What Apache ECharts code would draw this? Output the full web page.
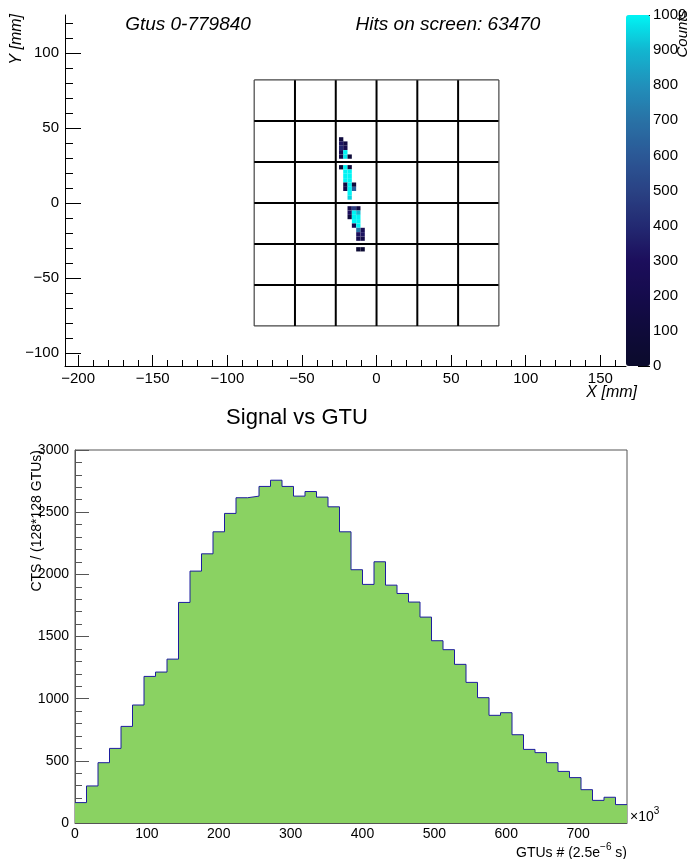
<!DOCTYPE html>
<html>
<head>
<meta charset="utf-8">
<script src="https://cdn.jsdelivr.net/npm/echarts@6/dist/echarts.min.js"></script>
<style>
html,body{margin:0;padding:0;background:#fff;}
#chart{width:691px;height:859px;}
</style>
</head>
<body>
<div id="chart"></div>
<script>
// ---------- DATA ----------
// Top panel: focal-surface hit map (pixel centre X [mm], Y [mm], counts)
const hits = [
  [-23.7, 42.4, 120],
  [-23.7, 39.6, 320], [-20.9, 39.6, 160],
  [-23.7, 36.7, 380], [-20.9, 36.7, 220],
  [-23.7, 33.8, 260], [-20.9, 33.8, 1000],
  [-23.7, 30.9, 200], [-20.9, 30.9, 980], [-18.0, 30.9, 90],
  [-23.7, 23.8, 80], [-20.9, 23.8, 1000], [-18.0, 23.8, 110],
  [-20.9, 20.9, 1000], [-18.0, 20.9, 1000],
  [-20.9, 18.0, 1000], [-18.0, 18.0, 1000],
  [-20.9, 15.1, 1000], [-18.0, 15.1, 1000],
  [-20.9, 12.2, 150], [-18.0, 12.2, 1000], [-15.1, 12.2, 120],
  [-20.9, 9.4, 200], [-18.0, 9.4, 1000], [-15.1, 9.4, 620],
  [-18.0, 6.5, 1000],
  [-18.0, 3.6, 950],
  [-18.0, -3.6, 220], [-15.1, -3.6, 480], [-12.2, -3.6, 150],
  [-18.0, -6.5, 300], [-15.1, -6.5, 1000], [-12.2, -6.5, 900],
  [-18.0, -9.4, 120], [-15.1, -9.4, 1000], [-12.2, -9.4, 1000],
  [-15.1, -12.2, 1000], [-12.2, -12.2, 1000],
  [-15.1, -15.1, 220], [-12.2, -15.1, 1000],
  [-12.2, -18.0, 700], [-9.3, -18.0, 250],
  [-12.2, -20.9, 300], [-9.3, -20.9, 320],
  [-12.2, -23.8, 220], [-9.3, -23.8, 180],
  [-12.2, -30.9, 60], [-9.3, -30.9, 60]
];
// MAPMT boundaries [mm]
const pmtEdges = [-82, -54.67, -27.33, 0, 27.33, 54.67, 82];
const pixelSize = 2.88; // mm
const mapXTicks = [-200, -150, -100, -50, 0, 50, 100, 150];
const mapYTicks = [-100, -50, 0, 50, 100];
const countsTicks = [0, 100, 200, 300, 400, 500, 600, 700, 800, 900, 1000];

// Bottom panel: Signal vs GTU histogram (48 bins, x in units of 10^3 GTU)
const binWidth = 16;
const signal = [
  164, 298, 485, 600, 777, 949, 1179, 1214, 1318, 1774,
  2026, 2165, 2342, 2490, 2616, 2629, 2707, 2757, 2707, 2629,
  2666, 2621, 2543, 2342, 2037, 1919, 2101, 1913, 1846, 1777,
  1656, 1466, 1394, 1276, 1131, 1008, 866, 887, 710, 592,
  566, 485, 415, 365, 268, 182, 207, 148
];
const gtuTicks = [0, 100, 200, 300, 400, 500, 600, 700];

// ---------- HELPERS ----------
const FONT = '"Liberation Sans", Arial, Helvetica, sans-serif';
function steps(a, b, s) { const r = []; for (let v = a; v <= b + 1e-9; v += s) r.push(+v.toFixed(6)); return r; }
const minus = v => (v < 0 ? '\u2212' + Math.abs(v) : String(v));
const plain = v => String(v);

const histPoints = signal.map((v, i) => [i * binWidth, v]);
histPoints.push([signal.length * binWidth, signal[signal.length - 1]]);
const histMax = signal.length * binWidth;

const X0 = -208.8, X1 = 167.2, Y0 = -108.7, Y1 = 125.3;

const chart = echarts.init(document.getElementById('chart'), null, { renderer: 'canvas' });

const lblTop = { color: '#000', fontSize: 15, fontFamily: FONT };
const lblBot = { color: '#000', fontSize: 14, fontFamily: FONT };

const option = {
  animation: false,
  backgroundColor: '#fff',
  grid: [
    { left: 65, top: 15, width: 561, height: 351, show: false },
    { left: 75, top: 450, width: 552, height: 373, show: true, borderColor: '#555', borderWidth: 1, backgroundColor: 'transparent' },
    { left: 626, top: 15, width: 24, height: 351, show: false }
  ],
  visualMap: {
    type: 'continuous', min: 0, max: 1000, seriesIndex: 0, dimension: 2,
    calculable: false, orient: 'vertical', left: 626, top: 15,
    itemWidth: 24, itemHeight: 351, padding: 0, text: null, hoverLink: false,
    inRange: { color: ['#0b0b2c', '#0f0b3a', '#150b4c', '#1c0e5c', '#232a72', '#2a4284', '#2b5896', '#2972a6', '#2190bb', '#12b6d0', '#00f4f4'] }
  },
  xAxis: [
    { gridIndex: 0, type: 'value', min: X0, max: X1, position: 'bottom',
      axisLine: { show: true, onZero: false, lineStyle: { color: '#000', width: 1 } },
      axisTick: { show: true, inside: true, length: 11, customValues: mapXTicks, lineStyle: { color: '#000' } },
      axisLabel: Object.assign({ customValues: mapXTicks, formatter: minus, margin: 5 }, lblTop),
      splitLine: { show: false } },
    { gridIndex: 0, type: 'value', min: X0, max: X1, position: 'bottom',
      axisLine: { show: false, onZero: false },
      axisTick: { show: true, inside: true, length: 6, customValues: steps(-200, 160, 10), lineStyle: { color: '#000' } },
      axisLabel: { show: false }, splitLine: { show: false } },
    { gridIndex: 2, type: 'value', min: 0, max: 1, show: false },
    { gridIndex: 1, type: 'value', min: 0, max: histMax, position: 'bottom',
      axisLine: { show: true, onZero: false, lineStyle: { color: '#555', width: 1 } },
      axisTick: { show: true, inside: true, length: 10, customValues: gtuTicks, lineStyle: { color: '#555' } },
      axisLabel: Object.assign({ customValues: gtuTicks, formatter: plain, margin: 4 }, lblBot),
      splitLine: { show: false } },
    { gridIndex: 1, type: 'value', min: 0, max: histMax, position: 'bottom',
      axisLine: { show: false, onZero: false },
      axisTick: { show: true, inside: true, length: 5, customValues: steps(0, 760, 20), lineStyle: { color: '#555' } },
      axisLabel: { show: false }, splitLine: { show: false } }
  ],
  yAxis: [
    { gridIndex: 0, type: 'value', min: Y0, max: Y1, position: 'left',
      axisLine: { show: true, onZero: false, lineStyle: { color: '#000', width: 1 } },
      axisTick: { show: true, inside: true, length: 16, customValues: mapYTicks, lineStyle: { color: '#000' } },
      axisLabel: Object.assign({ customValues: mapYTicks, formatter: minus, margin: 6 }, lblTop),
      splitLine: { show: false } },
    { gridIndex: 0, type: 'value', min: Y0, max: Y1, position: 'left',
      axisLine: { show: false, onZero: false },
      axisTick: { show: true, inside: true, length: 8, customValues: steps(-100, 120, 10), lineStyle: { color: '#000' } },
      axisLabel: { show: false }, splitLine: { show: false } },
    { gridIndex: 2, type: 'value', min: 0, max: 1000, position: 'right',
      axisLine: { show: false, onZero: false },
      axisTick: { show: true, inside: true, length: 12, customValues: countsTicks, lineStyle: { color: '#000' } },
      minorTick: { show: false },
      axisLabel: Object.assign({ customValues: countsTicks, formatter: plain, margin: 3 }, lblTop),
      splitLine: { show: false } },
    { gridIndex: 1, type: 'value', min: 0, max: 3000, interval: 500, position: 'left',
      axisLine: { show: true, onZero: false, lineStyle: { color: '#555', width: 1 } },
      axisTick: { show: true, inside: true, length: 14, lineStyle: { color: '#555' } },
      minorTick: { show: true, splitNumber: 5, length: 7, lineStyle: { color: '#555' } },
      axisLabel: Object.assign({ formatter: plain, margin: 6 }, lblBot),
      splitLine: { show: false } },
    { gridIndex: 2, type: 'value', min: 0, max: 1000, position: 'right', show: true,
      axisLine: { show: false, onZero: false }, axisLabel: { show: false },
      axisTick: { show: true, inside: true, length: 7, customValues: steps(0, 1000, 20), lineStyle: { color: '#000' } },
      splitLine: { show: false } }
  ],
  series: [
    { // hit map pixels
      type: 'custom', xAxisIndex: 0, yAxisIndex: 0, clip: true, silent: true, z: 2,
      data: hits,
      encode: { x: 0, y: 1 },
      renderItem: function (params, api) {
        const x = api.value(0), y = api.value(1), h = pixelSize / 2;
        const p0 = api.coord([x - h, y + h]);
        const p1 = api.coord([x + h, y - h]);
        return { type: 'rect', shape: { x: p0[0], y: p0[1], width: p1[0] - p0[0], height: p1[1] - p0[1] },
                 style: { fill: api.visual('color') } };
      }
    },
    { // MAPMT boundary grid
      type: 'custom', xAxisIndex: 0, yAxisIndex: 0, clip: false, silent: true, z: 3,
      data: pmtEdges.map(e => [e, e]),
      encode: { x: 0, y: 1 },
      renderItem: function (params, api) {
        const e = api.value(0);
        const lo = pmtEdges[0], hi = pmtEdges[pmtEdges.length - 1];
        const outer = (params.dataIndex === 0 || params.dataIndex === pmtEdges.length - 1);
        const st = { stroke: outer ? '#444' : '#000', lineWidth: outer ? 1.2 : 2 };
        const v0 = api.coord([e, lo]), v1 = api.coord([e, hi]);
        const h0 = api.coord([lo, e]), h1 = api.coord([hi, e]);
        return { type: 'group', children: [
          { type: 'line', shape: { x1: v0[0], y1: v0[1], x2: v1[0], y2: v1[1] }, style: st },
          { type: 'line', shape: { x1: h0[0], y1: h0[1], x2: h1[0], y2: h1[1] }, style: st }
        ] };
      }
    },
    { // Signal vs GTU histogram
      type: 'line', xAxisIndex: 3, yAxisIndex: 3, step: 'end', showSymbol: false, symbol: 'none',
      silent: true, z: 2,
      data: histPoints,
      lineStyle: { color: '#1d1d9e', width: 1 },
      areaStyle: { color: '#8ad262', opacity: 1 }
    }
  ],
  graphic: [
    { type: 'text', x: 188, y: 25, style: { text: 'Gtus 0-779840', fontSize: 19, fontStyle: 'italic', fontFamily: FONT, fill: '#000', align: 'center', verticalAlign: 'middle' } },
    { type: 'text', x: 448, y: 25, style: { text: 'Hits on screen: 63470', fontSize: 19, fontStyle: 'italic', fontFamily: FONT, fill: '#000', align: 'center', verticalAlign: 'middle' } },
    { type: 'text', x: 17, y: 14, rotation: Math.PI / 2, style: { text: 'Y [mm]', fontSize: 16, fontStyle: 'italic', fontFamily: FONT, fill: '#000', align: 'right', verticalAlign: 'middle' } },
    { type: 'text', x: 637, y: 393, style: { text: 'X [mm]', fontSize: 16, fontStyle: 'italic', fontFamily: FONT, fill: '#000', align: 'right', verticalAlign: 'middle' } },
    { type: 'text', x: 683, y: 10, rotation: Math.PI / 2, style: { text: 'Counts', fontSize: 15, fontStyle: 'italic', fontFamily: FONT, fill: '#000', align: 'right', verticalAlign: 'middle' } },
    { type: 'text', x: 297, y: 418, style: { text: 'Signal vs GTU', fontSize: 22, fontFamily: FONT, fill: '#000', align: 'center', verticalAlign: 'middle' } },
    { type: 'text', x: 37, y: 450, rotation: Math.PI / 2, style: { text: 'CTS / (128*128 GTUs)', fontSize: 14, fontFamily: FONT, fill: '#000', align: 'right', verticalAlign: 'middle' } },
    { type: 'text', x: 627, y: 851, style: { text: '{n|GTUs # (2.5e}{s|\u22126}{n| s)}', align: 'right', verticalAlign: 'middle',
        rich: { n: { fontSize: 14, fontFamily: FONT, fill: '#000', verticalAlign: 'bottom', lineHeight: 18 },
                s: { fontSize: 10, fontFamily: FONT, fill: '#000', verticalAlign: 'top', lineHeight: 18 } } } },
    { type: 'text', x: 630, y: 815, style: { text: '{n|\u00d710}{s|3}', align: 'left', verticalAlign: 'middle',
        rich: { n: { fontSize: 14, fontFamily: FONT, fill: '#000', verticalAlign: 'bottom', lineHeight: 18 },
                s: { fontSize: 10, fontFamily: FONT, fill: '#000', verticalAlign: 'top', lineHeight: 18 } } } }
  ]
};
chart.setOption(option);
</script>
</body>
</html>
